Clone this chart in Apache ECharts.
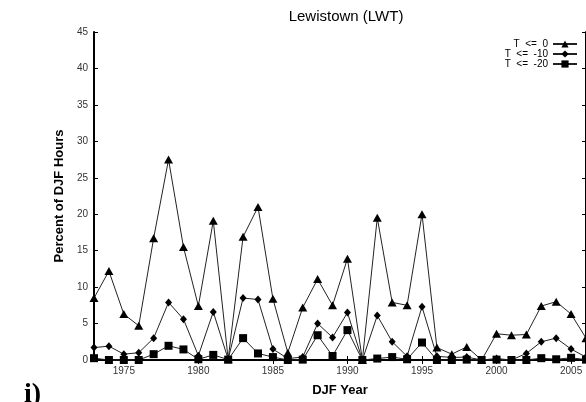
<!DOCTYPE html>
<html>
<head>
<meta charset="utf-8">
<script src="https://cdn.jsdelivr.net/npm/echarts@6/dist/echarts.min.js"></script>
<style>
  html, body { margin: 0; padding: 0; background: #fff; }
  #chart { width: 586px; height: 402px; }
</style>
</head>
<body>
<div id="chart"></div>
<script>
// Winter (DJF) cold-hour frequency at Lewistown, percent of hours per season
const years = [1973,1974,1975,1976,1977,1978,1979,1980,1981,1982,1983,1984,1985,1986,1987,1988,1989,1990,
               1991,1992,1993,1994,1995,1996,1997,1998,1999,2000,2001,2002,2003,2004,2005,2006];
const le0   = [8.5,12.2,6.3,4.7,16.7,27.5,15.5,7.4,19.1,0.1,16.9,21.0,8.4,1.0,7.2,11.1,7.5,13.9,
               0.0,19.5,7.9,7.5,20.0,1.7,0.8,1.8,0.0,3.6,3.4,3.5,7.4,8.0,6.3,3.0];
const le10  = [1.7,1.9,0.8,1.0,3.0,7.9,5.6,0.6,6.6,0.1,8.5,8.3,1.5,0.2,0.4,5.0,3.1,6.5,
               0.0,6.1,2.5,0.5,7.3,0.5,0.35,0.4,0.0,0.2,0.0,0.9,2.5,3.0,1.5,0.4];
const le20  = [0.25,0.0,0.0,0.0,0.8,1.95,1.45,0.1,0.7,0.05,3.0,0.9,0.4,0.0,0.05,3.4,0.55,4.1,
               0.0,0.2,0.4,0.1,2.4,0.0,0.0,0.05,0.0,0.05,0.0,0.0,0.25,0.1,0.3,0.05];
const yearTicks = [1975,1980,1985,1990,1995,2000,2005];
const seriesNames = ['T <= 0', 'T <= -10', 'T <= -20'];

const pairs = vals => years.map((y, i) => [y, vals[i]]);
const font = 'Liberation Sans, Arial, sans-serif';

const axisLine = { show: true, lineStyle: { color: '#000', width: 2 } };
const tick = (vals) => ({ show: true, inside: true, length: 4, lineStyle: { color: '#000', width: 1 }, customValues: vals });

const chart = echarts.init(document.getElementById('chart'), null, { renderer: 'canvas' });

function lineSeries(name, vals, symbol, size) {
  return {
    name, type: 'line', data: pairs(vals),
    symbol, symbolSize: size, showSymbol: true,
    lineStyle: { color: '#222', width: 1 },
    itemStyle: { color: '#000', borderWidth: 0 },
    emphasis: { disabled: true },
    clip: false,
    animation: false
  };
}

chart.setOption({
  animation: false,
  title: {
    text: 'Lewistown (LWT)', left: 341, top: 4, textAlign: 'center',
    textStyle: { fontFamily: font, fontSize: 15, fontWeight: 'normal', color: '#000' }
  },
  legend: {
    orient: 'vertical', right: 8, top: 39, align: 'right', padding: 0,
    itemWidth: 24, itemHeight: 9, itemGap: 0,
    formatter: name => name.replace(/ /g, '  '),
    textStyle: { fontFamily: font, fontSize: 10, color: '#000', lineHeight: 9, padding: [0, 0, 0, 0] },
    data: seriesNames
  },
  grid: { left: 94, right: -2, top: 32, bottom: 42, containLabel: false },
  xAxis: [
    {
      type: 'value', min: 1973, max: 2006, position: 'bottom',
      name: 'DJF Year', nameLocation: 'middle', nameGap: 24,
      nameTextStyle: { fontFamily: font, fontSize: 13, fontWeight: 'bold', color: '#000' },
      axisLine, axisTick: tick(yearTicks), splitLine: { show: false },
      axisLabel: { customValues: yearTicks, formatter: v => String(v), fontFamily: font, fontSize: 10, color: '#333', margin: 6 }
    },
    {
      type: 'value', min: 1973, max: 2006, position: 'top',
      axisLine, axisTick: tick(yearTicks), splitLine: { show: false },
      axisLabel: { show: false }
    }
  ],
  yAxis: [
    {
      type: 'value', min: 0, max: 45, interval: 5, position: 'left',
      name: 'Percent of DJF Hours', nameLocation: 'middle', nameGap: 27,
      nameTextStyle: { fontFamily: font, fontSize: 13, fontWeight: 'bold', color: '#000' },
      axisLine, axisTick: { show: true, inside: true, length: 4, lineStyle: { color: '#000' } },
      splitLine: { show: false },
      axisLabel: { fontFamily: font, fontSize: 10, color: '#333', margin: 6 }
    },
    {
      type: 'value', min: 0, max: 45, interval: 5, position: 'right',
      axisLine, axisTick: { show: true, inside: true, length: 4, lineStyle: { color: '#000' } },
      splitLine: { show: false }, axisLabel: { show: false }
    }
  ],
  series: [
    lineSeries(seriesNames[0], le0, 'triangle', [9, 8]),
    lineSeries(seriesNames[1], le10, 'diamond', [7, 8]),
    lineSeries(seriesNames[2], le20, 'rect', 8)
  ],
  graphic: [{
    type: 'text', left: 24, top: 381, silent: true,
    style: { text: 'i)', fontFamily: 'Liberation Serif, Times New Roman, serif', fontSize: 28, fontWeight: 'bold', fill: '#000' }
  }]
});
</script>
</body>
</html>
